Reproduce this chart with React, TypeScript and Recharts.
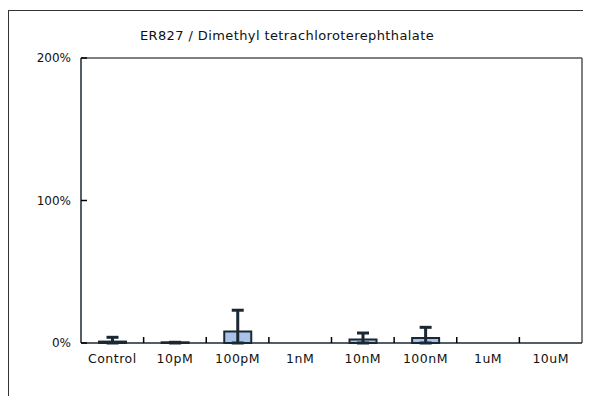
import { BarChart, Bar, XAxis, YAxis, ErrorBar, CartesianGrid } from 'recharts';

// concentrations along the x axis
const categories = ['Control', '10pM', '100pM', '1nM', '10nM', '100nM', '1uM', '10uM'];
// mean response (% of positive control)
const means = [1, 0.5, 8, 0, 2.5, 3.5, 0, 0];
// top of the error bar (%)
const errTops = [4, 0.5, 23, 0, 7, 11, 0, 0];
const yTicks = [0, 100, 200];

const chartData = categories.map((name, i) => ({
  name,
  value: means[i],
  err: [means[i], Math.max(errTops[i] - means[i], 0)],
}));

const font = "'DejaVu Sans', sans-serif";
const ink = '#1b2833';
const GAP = 10; // tickMargin used on both axes

// category label plus a small inward tick at the right edge of the band
function CategoryTick(props: any) {
  const { x, y, payload, index } = props;
  const edge = x + (payload.offset || 0);
  const axisY = y - GAP;
  return (
    <g>
      {index < categories.length - 1 && (
        <line x1={edge} x2={edge} y1={axisY} y2={axisY - 6} stroke="#000" strokeWidth={1.5} />
      )}
      <text
        x={x}
        y={y}
        dy="0.8em"
        textAnchor="middle"
        fill="#111"
        fontSize={12.5}
        fontFamily={font}
        letterSpacing={0.5}
      >
        {payload.value}
      </text>
    </g>
  );
}

function PercentTick(props: any) {
  const { x, y, payload } = props;
  const axisX = x + GAP;
  return (
    <g>
      <line x1={axisX} x2={axisX + 6} y1={y} y2={y} stroke="#000" strokeWidth={1.5} />
      <text x={x} y={y} dy="0.35em" textAnchor="end" fill="#111" fontSize={12} fontFamily={font}>
        {`${payload.value}%`}
      </text>
    </g>
  );
}

export default function App() {
  return (
    <div
      style={{
        position: 'relative',
        width: 580,
        height: 390,
        border: '1px solid #333',
        borderBottom: 'none',
        marginTop: 2,
        background: '#fff',
        fontFamily: font,
      }}
    >
      <div
        style={{
          position: 'absolute',
          top: 17,
          left: 0,
          width: 556,
          textAlign: 'center',
          fontSize: 13,
          letterSpacing: 0.4,
          color: '#111',
        }}
      >
        ER827 / Dimethyl tetrachloroterephthalate
      </div>
      <BarChart
        width={580}
        height={386}
        data={chartData}
        margin={{ top: 47, right: 7, left: 11, bottom: 0 }}
      >
        <CartesianGrid
          stroke="#555"
          strokeWidth={1.5}
          horizontalCoordinatesGenerator={({ offset }: any) => [offset.top]}
          verticalCoordinatesGenerator={({ offset }: any) => [offset.left + offset.width]}
        />
        <XAxis
          dataKey="name"
          axisLine={{ stroke: ink, strokeWidth: 1.5 }}
          tickLine={false}
          tickSize={0}
          tick={<CategoryTick />}
          tickMargin={GAP}
          height={54}
          interval={0}
        />
        <YAxis
          domain={[0, 200]}
          ticks={yTicks}
          axisLine={{ stroke: ink, strokeWidth: 1.5 }}
          tickLine={false}
          tickSize={0}
          tick={<PercentTick />}
          tickMargin={GAP}
          width={61}
        />
        <Bar
          dataKey="value"
          barSize={27}
          fill="#a9c2ea"
          stroke={ink}
          strokeWidth={2}
          isAnimationActive={false}
        >
          <ErrorBar dataKey="err" width={6} stroke={ink} strokeWidth={3} />
        </Bar>
      </BarChart>
    </div>
  );
}
